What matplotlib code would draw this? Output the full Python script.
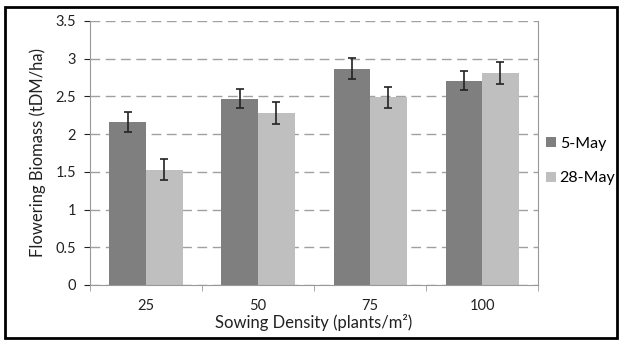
import numpy as np
import matplotlib.pyplot as plt
from matplotlib.patches import Rectangle

densities = ['25', '50', '75', '100']
may5 = [2.16, 2.47, 2.87, 2.71]
may5_err = [0.13, 0.13, 0.14, 0.13]
may28 = [1.53, 2.28, 2.49, 2.81]
may28_err = [0.14, 0.15, 0.14, 0.15]
series_names = ['5-May', '28-May']

plt.rcParams['font.family'] = ['Lato', 'DejaVu Sans']

fig = plt.figure(figsize=(6.22, 3.42), dpi=100)
ax = fig.add_axes([0.1447, 0.1667, 0.7203, 0.7719])

x = np.arange(len(densities))
w = 0.326
ax.bar(x - w / 2, may5, w, yerr=may5_err, color='#7f7f7f', label=series_names[0],
       error_kw=dict(ecolor='#222222', capsize=3, elinewidth=1.2, capthick=1.2))
ax.bar(x + w / 2, may28, w, yerr=may28_err, color='#bfbfbf', label=series_names[1],
       error_kw=dict(ecolor='#222222', capsize=3, elinewidth=1.2, capthick=1.2))

ax.set_xlim(-0.5, len(densities) - 0.5)
ax.set_ylim(0, 3.5)
ax.set_yticks(np.arange(0, 3.51, 0.5))
ax.set_yticklabels(['0', '0.5', '1', '1.5', '2', '2.5', '3', '3.5'])
ax.set_xticks(x)
ax.set_xticklabels(densities)
ax.set_xticks(np.arange(-0.5, len(densities), 1), minor=True)
ax.tick_params(axis='x', which='major', length=0, pad=10)
ax.tick_params(axis='x', which='minor', length=4, color='#999999')
ax.tick_params(axis='y', length=4, color='#999999', pad=6)
ax.tick_params(labelsize=10.5, colors='#222222')

ax.yaxis.grid(True, linestyle=(0, (7, 4)), color='#a0a0a0', linewidth=1.0)
ax.set_axisbelow(True)
for side in ['left', 'bottom', 'right']:
    ax.spines[side].set_color('#999999')
ax.spines['top'].set_visible(False)

ax.set_ylabel('Flowering Biomass (tDM/ha)', fontsize=12, color='#222222', labelpad=7)
ax.set_xlabel('Sowing Density (plants/m²)', fontsize=12, color='#222222', labelpad=1)

ax.legend(loc='center left', bbox_to_anchor=(1.018, 0.47), frameon=False,
          fontsize=11.5, handlelength=0.6, handleheight=0.6, handletextpad=0.25,
          labelspacing=1.3, borderpad=0, borderaxespad=0)

fig.patches.append(Rectangle((0.008, 0.012), 0.984, 0.968, transform=fig.transFigure,
                             fill=False, edgecolor='black', linewidth=2))

fig.savefig('out.png', dpi=100)
